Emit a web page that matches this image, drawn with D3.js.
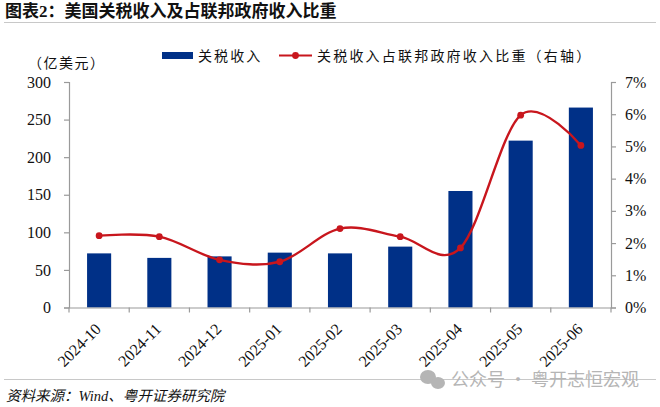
<!DOCTYPE html>
<html>
<head>
<meta charset="utf-8">
<script src="https://cdn.jsdelivr.net/npm/d3@7"></script>
<style>
  body { margin: 0; background: #fff; }
  text { font-family: "Liberation Serif", "Noto Sans CJK SC", serif; fill: #111; }
</style>
</head>
<body>
<div id="vis"></div>
<script>
const w = 660;
const h = 407;
const margin = ({ top: 82, right: 49, bottom: 99.5, left: 69 });

const months = ["2024-10", "2024-11", "2024-12", "2025-01", "2025-02", "2025-03", "2025-04", "2025-05", "2025-06"];
const tariffRevenue = [72, 66, 68, 73, 72, 81, 155, 222, 266];
const tariffShare = [2.23, 2.2, 1.48, 1.42, 2.45, 2.2, 1.85, 5.97, 5.03];
const leftTicks = [0, 50, 100, 150, 200, 250, 300];
const rightTicks = [0, 1, 2, 3, 4, 5, 6, 7];

const barColor = "#003087";
const lineColor = "#c8161d";
const axisColor = "#9a9a9a";

const svg = d3.select("#vis").append("svg")
    .attr("width", w)
    .attr("height", h)
    .style("display", "block");

const xScale = d3.scaleBand()
    .domain(months)
    .range([margin.left, w - margin.right])
    .paddingInner(0.6)
    .paddingOuter(0.3);

const yLeft = d3.scaleLinear().domain([0, 300]).range([h - margin.bottom, margin.top]);
const yRight = d3.scaleLinear().domain([0, 7]).range([h - margin.bottom, margin.top]);
const center = d => xScale(d) + xScale.bandwidth() / 2;

// title and rules
svg.append("text")
    .attr("x", 5).attr("y", 17)
    .attr("font-size", 17).attr("font-weight", "bold")
    .text("图表2\uFF1A美国关税收入及占联邦政府收入比重");

svg.selectAll(".rule")
    .data([22.5, 379.5])
    .join("line")
    .attr("class", "rule")
    .attr("x1", 4).attr("x2", 656)
    .attr("y1", d => d).attr("y2", d => d)
    .attr("stroke", "#c8c8c8");

// bars
svg.selectAll(".bar")
    .data(months)
    .join("rect")
    .attr("class", "bar")
    .attr("x", d => xScale(d))
    .attr("y", (d, i) => yLeft(tariffRevenue[i]))
    .attr("width", xScale.bandwidth())
    .attr("height", (d, i) => yLeft(0) - yLeft(tariffRevenue[i]))
    .attr("fill", barColor);

// axes
const yAxisLeft = d3.axisLeft(yLeft).tickValues(leftTicks).tickSize(5).tickPadding(13);
const yAxisRight = d3.axisRight(yRight).tickValues(rightTicks).tickSize(5).tickPadding(9)
    .tickFormat(d => d + "%");
const xAxis = d3.axisBottom(xScale).tickSize(0).tickFormat(d => d);

function styleAxis(g) {
    g.selectAll(".domain, .tick line").attr("stroke", axisColor).attr("stroke-width", 1.2);
    g.selectAll("text").attr("font-size", 16).attr("fill", "#111")
        .attr("font-family", '"Liberation Serif", serif');
}

svg.append("g")
    .attr("transform", `translate(${margin.left},0)`)
    .call(yAxisLeft.tickSizeOuter(5))
    .call(styleAxis);

svg.append("g")
    .attr("transform", `translate(${w - margin.right},0)`)
    .call(yAxisRight.tickSizeOuter(5))
    .call(styleAxis);

const xG = svg.append("g")
    .attr("transform", `translate(0,${h - margin.bottom})`)
    .call(xAxis.tickSizeOuter(0))
    .call(styleAxis);

xG.selectAll(".tick text")
    .attr("font-size", 16)
    .attr("text-anchor", "end")
    .attr("x", -14).attr("y", 18).attr("dy", 0)
    .attr("transform", "rotate(-45)");

// x ticks sit between the categories
const step = xScale.step();
xG.selectAll(".sep")
    .data(d3.range(months.length + 1))
    .join("line")
    .attr("class", "sep")
    .attr("x1", i => margin.left + i * step)
    .attr("x2", i => margin.left + i * step)
    .attr("y1", 0).attr("y2", 5)
    .attr("stroke", axisColor).attr("stroke-width", 1.2);

// share line
const line = d3.line()
    .x(d => center(d))
    .y((d, i) => yRight(tariffShare[i]))
    .curve(d3.curveCatmullRom.alpha(0));

svg.append("path")
    .attr("d", line(months))
    .attr("fill", "none")
    .attr("stroke", lineColor)
    .attr("stroke-width", 2.4);

svg.selectAll(".dot")
    .data(months)
    .join("circle")
    .attr("class", "dot")
    .attr("cx", d => center(d))
    .attr("cy", (d, i) => yRight(tariffShare[i]))
    .attr("r", 3.4)
    .attr("fill", lineColor);

// legend
svg.append("rect")
    .attr("x", 162).attr("y", 52).attr("width", 31).attr("height", 7)
    .attr("fill", barColor);

svg.append("text")
    .attr("x", 198).attr("y", 61)
    .attr("font-size", 14).attr("letter-spacing", 2.1)
    .text("关税收入");

svg.append("line")
    .attr("x1", 279).attr("x2", 312).attr("y1", 55.5).attr("y2", 55.5)
    .attr("stroke", lineColor).attr("stroke-width", 2.2);

svg.append("circle")
    .attr("cx", 295.5).attr("cy", 55.5).attr("r", 3.4)
    .attr("fill", lineColor);

svg.append("text")
    .attr("x", 317).attr("y", 61)
    .attr("font-size", 14).attr("letter-spacing", 2.2)
    .text("关税收入占联邦政府收入比重\uFF08右轴\uFF09");

// unit
svg.append("text")
    .attr("x", 28).attr("y", 68)
    .attr("font-size", 14).attr("letter-spacing", 1.5)
    .text("\uFF08亿美元\uFF09");

// source
svg.append("text")
    .attr("x", 6).attr("y", 401)
    .attr("font-size", 14.5).attr("font-style", "italic")
    .text("资料来源\uFF1AWind、粤开证券研究院");

// watermark
const mark = svg.append("g").attr("fill", "#b5b5b5");
mark.append("ellipse").attr("cx", 428).attr("cy", 377).attr("rx", 8).attr("ry", 7);
mark.append("ellipse").attr("cx", 438).attr("cy", 383).attr("rx", 7).attr("ry", 6);

svg.append("text")
    .attr("x", 451).attr("y", 386)
    .attr("font-size", 18)
    .style("font-family", '"Noto Sans CJK SC", sans-serif')
    .style("fill", "#b5b5b5")
    .text("公众号 · 粤开志恒宏观");
</script>
</body>
</html>
